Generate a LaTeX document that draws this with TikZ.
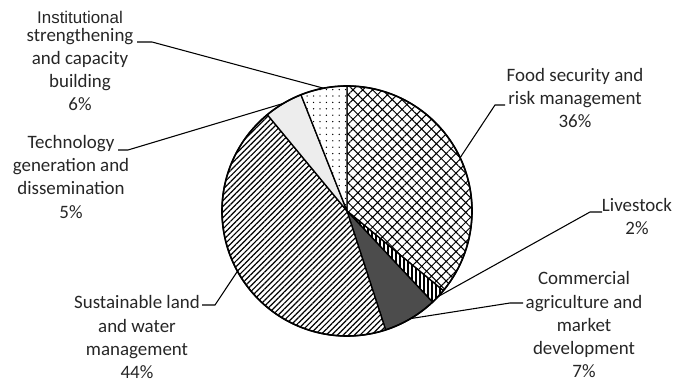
\documentclass[tikz,border=0pt]{standalone}
\usepackage{fontspec}
\setmainfont{Carlito}
\newfontfamily\arialfont{Liberation Sans}
\usetikzlibrary{patterns.meta}

\tikzset{
  slice/.style={draw=black, line width=1pt, line join=round},
  lbl/.style={align=center, inner sep=0pt, text=black!85,
    font=\fontsize{14.2}{17.4}\selectfont},
  leader/.style={draw=black, line width=0.8pt},
}

\begin{document}
\begin{tikzpicture}[x=0.75pt,y=0.75pt]
  \useasboundingbox (0,0) rectangle (674,384);
  \coordinate (c) at (347,173);

  % slices, clockwise from the top
  \draw[slice, fill=white,
    postaction={pattern={Hatch[angle=45,distance=5.2pt,line width=0.75pt]}}]
    (c) -- ++(90:125) arc[start angle=90, end angle=-39.6, radius=125] -- cycle;
  \draw[slice, fill=white,
    postaction={pattern={Lines[angle=90,distance=3pt,line width=1pt]}}]
    (c) -- ++(-39.6:125) arc[start angle=-39.6, end angle=-46.8, radius=125] -- cycle;
  \draw[slice, fill=black!70]
    (c) -- ++(-46.8:125) arc[start angle=-46.8, end angle=-72, radius=125] -- cycle;
  \draw[slice, fill=white,
    postaction={pattern={Lines[angle=45,distance=3pt,line width=0.9pt]}}]
    (c) -- ++(-72:125) arc[start angle=-72, end angle=-230.4, radius=125] -- cycle;
  \draw[slice, fill=black!7]
    (c) -- ++(129.6:125) arc[start angle=129.6, end angle=111.6, radius=125] -- cycle;
  \draw[slice, fill=white,
    postaction={pattern={Dots[distance=4.8pt,radius=0.55pt]}}]
    (c) -- ++(111.6:125) arc[start angle=111.6, end angle=90, radius=125] -- cycle;
  \draw[line width=1.2pt] (c) circle[radius=125];

  % labels
  \node[lbl] (inst) at (80,322.8) {{\arialfont\fontsize{12.7}{14}\selectfont Institutional}\\[-4pt]strengthening\\and capacity\\building\\6\%};
  \node[lbl] (tech) at (71,207.2) {Technology\\generation and\\dissemination\\5\%};
  \node[lbl] (food) at (575,285.7) {Food security and\\risk management\\36\%};
  \node[lbl] (live) at (637,167.2) {Livestock\\2\%};
  \node[lbl] (comm) at (584,59.1) {Commercial\\agriculture and\\market\\development\\7\%};
  \node[lbl] (sust) at (137,46.7) {Sustainable land\\and water\\management\\44\%};

  % leader lines
  \coordinate (inst-t) at (137,342);
  \coordinate (tech-t) at (118,234);
  \coordinate (food-t) at (505,279);
  \coordinate (live-t) at (602,172);
  \coordinate (comm-t) at (523,81);
  \coordinate (sust-t) at (202,79);
  \path (c) ++(100.8:125) coordinate (inst-p);
  \path (c) ++(120.6:125) coordinate (tech-p);
  \path (c) ++(25.2:125) coordinate (food-p);
  \path (c) ++(-43.2:125) coordinate (live-p);
  \path (c) ++(-59.4:125) coordinate (comm-p);
  \path (c) ++(-151.2:125) coordinate (sust-p);
  \draw[leader] (inst-t) -- ++(15,0) -- (inst-p);
  \draw[leader] (tech-t) -- ++(10,0) -- (tech-p);
  \draw[leader] (food-t) -- ++(-10,0) -- (food-p);
  \draw[leader] (live-t) -- ++(-12,0) -- (live-p);
  \draw[leader] (comm-t) -- ++(-13,0) -- (comm-p);
  \draw[leader] (sust-t) -- ++(13,0) -- (sust-p);
\end{tikzpicture}
\end{document}
